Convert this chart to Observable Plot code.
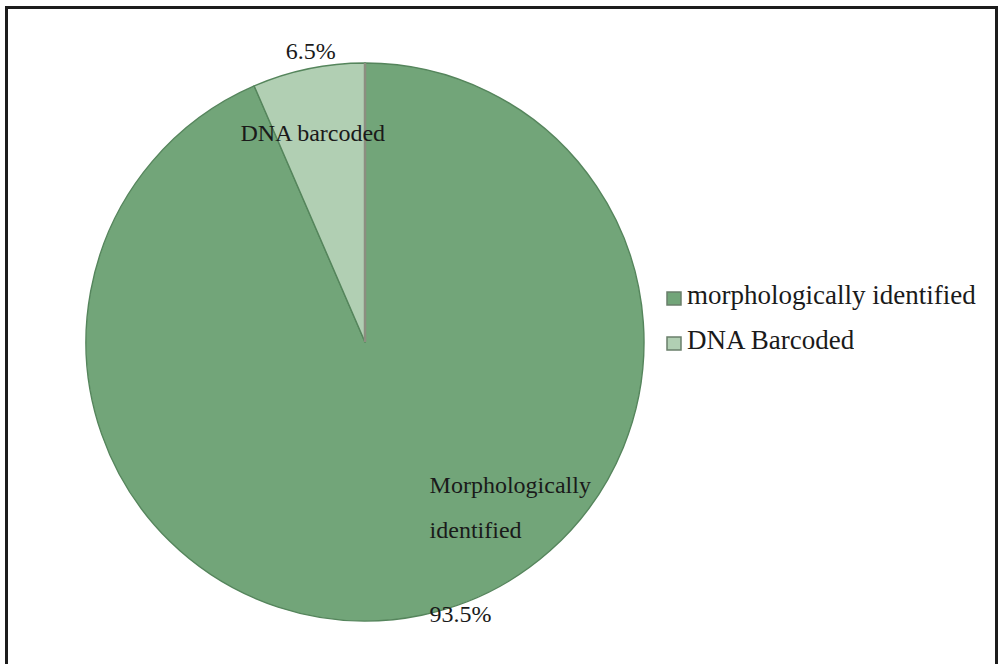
<!DOCTYPE html>
<html>
<head>
<meta charset="utf-8">
<script src="https://cdn.jsdelivr.net/npm/d3@7"></script>
<script src="https://cdn.jsdelivr.net/npm/@observablehq/plot@0.6"></script>
<style>
  html, body { margin: 0; padding: 0; background: #fff; overflow: hidden; }
  body { width: 998px; height: 664px; position: relative; font-family: "Liberation Serif", "Times New Roman", serif; }
  #frame {
    position: absolute; left: 5px; top: 6px; width: 987px; height: 700px;
    border: 3px solid #1c1c1c; border-bottom: none;
  }
  #chart { position: absolute; left: 0; top: 0; }
  #legend { position: absolute; left: 667px; top: 266px; }
  .lg-swatches { font-family: "Liberation Serif", serif !important; font-size: 27px !important; color: #1a1a1a !important; overflow: visible !important; }
  .lg-swatch { display: flex !important; align-items: flex-end !important; height: 45px !important; line-height: 32px !important; padding: 0 !important; margin: 0 !important; white-space: nowrap; overflow: visible !important; }
  .lg-swatch svg { margin-right: 6px !important; margin-bottom: 6px !important; }
  .lg-swatch svg rect { stroke: #6a7f6b; stroke-width: 1.5px; }
</style>
</head>
<body>
<div id="frame"></div>
<div id="chart"></div>
<div id="legend"></div>
<script>
// Slice categories, in drawing order (clockwise from 12 o'clock)
const categories = ["Morphologically identified", "DNA barcoded"];
const shares = [93.5, 6.5];
const percentLabels = ["93.5%", "6.5%"];
const legendLabels = ["morphologically identified", "DNA Barcoded"];
const colors = ["#72a579", "#b1cfb3"];

const slices = categories.map((name, i) => ({name, share: shares[i], pct: percentLabels[i], color: colors[i]}));
const arcs = d3.pie().sort(null).value(d => d.share)(slices);

// Anchor points in unit-circle coordinates (y up) at each slice's mid angle
function anchor(a, f) {
  const m = (a.startAngle + a.endAngle) / 2;
  return {x: Math.sin(m) * f, y: Math.cos(m) * f};
}
const big = arcs[0], small = arcs[1];
const labelRows = [
  {...anchor(small, 0.79), text: "DNA barcoded", dx: -8, dy: 0, anchor: "middle"},
  {...anchor(small, 1.09), text: small.data.pct, dx: 7, dy: 0, anchor: "middle"},
  {...anchor(big, 0.55), text: "Morphologically\nidentified", dx: 33, dy: 8, anchor: "start"},
  {...anchor(big, 0.55), text: big.data.pct, dx: 33, dy: 115, anchor: "start"}
];

// Pie wedges drawn through the plot's x/y scales
function pieMark(index, scales) {
  const {x, y} = scales;
  const cx = x(0), cy = y(0), r = x(1) - x(0);
  const arcGen = d3.arc().innerRadius(0).outerRadius(r);
  const g = d3.create("svg:g").attr("transform", `translate(${cx},${cy})`);
  g.selectAll("path")
    .data(arcs)
    .join("path")
    .attr("d", arcGen)
    .attr("fill", d => d.data.color)
    .attr("stroke", "#55855c")
    .attr("stroke-width", 1.4)
    .attr("stroke-linejoin", "round");
  // boundary at 12 o'clock shows as a grey seam
  g.append("line")
    .attr("x1", 0).attr("y1", 0).attr("x2", 0).attr("y2", -r)
    .attr("stroke", "#8c8e80").attr("stroke-width", 2.5);
  return g.node();
}

const chart = Plot.plot({
  width: 998,
  height: 664,
  margin: 0,
  x: {domain: [-1, 1], range: [86, 644], axis: null},
  y: {domain: [-1, 1], range: [621, 63], axis: null},
  style: {background: "transparent", overflow: "visible"},
  marks: [
    pieMark,
    ...labelRows.map(d => Plot.text([d], {
      x: "x", y: "y", text: "text",
      dx: d.dx, dy: d.dy,
      textAnchor: d.anchor,
      fontFamily: "Liberation Serif", fontSize: 24, fill: "#1a1a1a",
      lineHeight: 1.875
    }))
  ]
});
document.getElementById("chart").appendChild(chart);

const legend = Plot.legend({
  color: {type: "categorical", domain: legendLabels, range: colors},
  legend: "swatches",
  columns: 1,
  swatchWidth: 14,
  swatchHeight: 13,
  className: "lg"
});
document.getElementById("legend").appendChild(legend);
</script>
</body>
</html>
